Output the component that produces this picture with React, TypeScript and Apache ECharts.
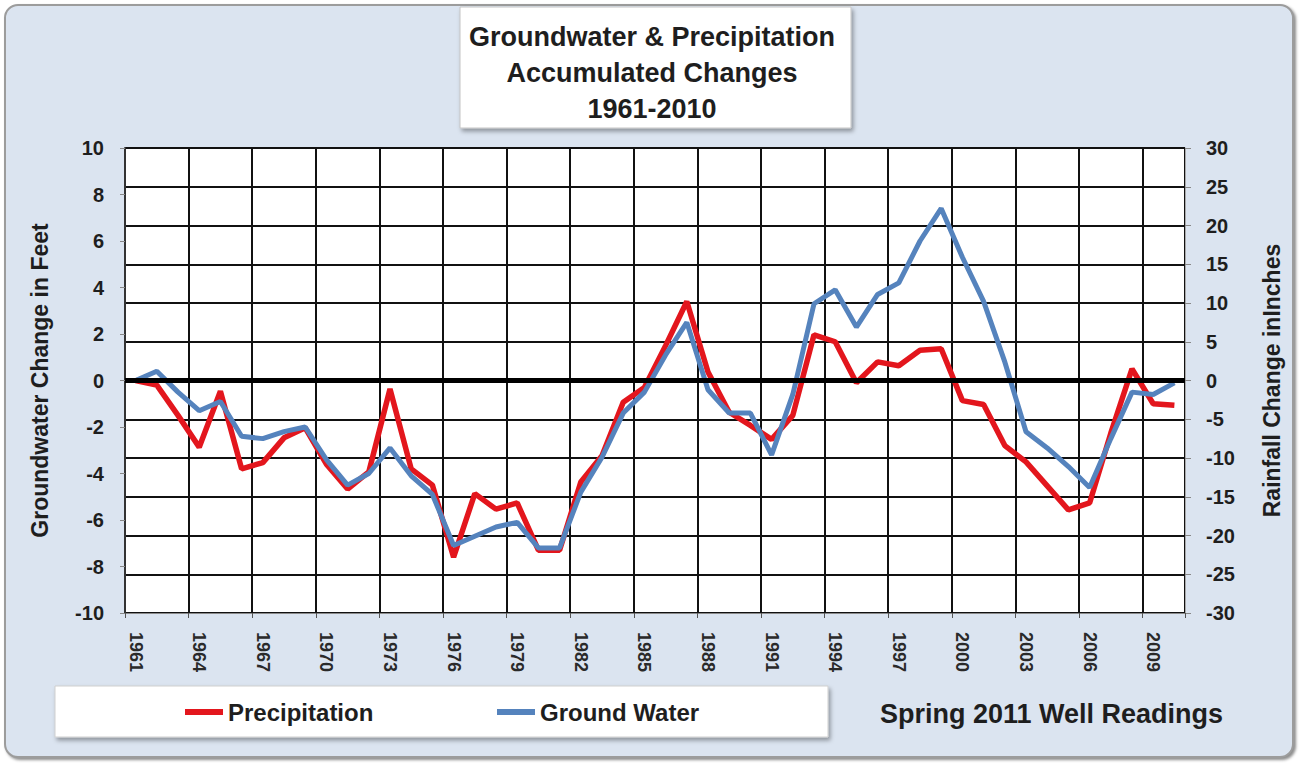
import React, { useEffect, useRef } from "react";
import * as echarts from "echarts";

const years = [
  "1961", "1962", "1963", "1964", "1965", "1966", "1967", "1968", "1969", "1970",
  "1971", "1972", "1973", "1974", "1975", "1976", "1977", "1978", "1979", "1980",
  "1981", "1982", "1983", "1984", "1985", "1986", "1987", "1988", "1989", "1990",
  "1991", "1992", "1993", "1994", "1995", "1996", "1997", "1998", "1999", "2000",
  "2001", "2002", "2003", "2004", "2005", "2006", "2007", "2008", "2009", "2010",
];

// Accumulated precipitation change, inches (right axis)
const precipitation = [
  0, -0.6, -4.5, -8.6, -1.4, -11.4, -10.6, -7.4, -6.1, -10.8,
  -14.0, -11.8, -1.1, -11.4, -13.5, -22.8, -14.6, -16.6, -15.8, -21.9,
  -21.9, -13.1, -9.7, -2.8, -0.9, 4.5, 10.2, 1.1, -4.1, -5.8,
  -7.6, -4.5, 5.9, 5.0, -0.3, 2.4, 1.9, 3.9, 4.1, -2.6,
  -3.1, -8.4, -10.5, -13.6, -16.7, -15.8, -6.8, 1.5, -3.0, -3.2,
];

// Accumulated groundwater change, feet (left axis)
const groundWater = [
  0, 0.4, -0.5, -1.3, -0.9, -2.4, -2.5, -2.2, -2.0, -3.4,
  -4.5, -4.0, -2.9, -4.1, -4.9, -7.1, -6.7, -6.3, -6.1, -7.2,
  -7.2, -4.8, -3.3, -1.4, -0.5, 1.1, 2.5, -0.4, -1.4, -1.4,
  -3.2, -0.6, 3.3, 3.9, 2.3, 3.7, 4.2, 6.0, 7.4, 5.3,
  3.4, 0.8, -2.2, -2.9, -3.7, -4.6, -2.5, -0.5, -0.6, -0.1,
];

const titleLines = ["Groundwater & Precipitation", "Accumulated Changes", "1961-2010"];
const leftAxisName = "Groundwater Change in Feet";
const rightAxisName = "Rainfall Change inInches";
const footnote = "Spring 2011 Well Readings";

const FONT = "'Liberation Sans', Arial, sans-serif";
const TEXT = "#1e1e1e";
const RED = "#e3161d";
const BLUE = "#5583bd";

export default function App() {
  const ref = useRef<HTMLDivElement>(null);

  useEffect(() => {
    if (!ref.current) return;
    const chart = echarts.init(ref.current, undefined, { renderer: "svg" });
    const legendText = {
      fontSize: 24,
      fontWeight: "bold",
      fontFamily: FONT,
      color: TEXT,
    };
    chart.setOption({
      animation: false,
      backgroundColor: "transparent",
      textStyle: { fontFamily: FONT },
      graphic: [
        {
          type: "rect",
          z: 1,
          silent: true,
          shape: { x: 460, y: 7, width: 391, height: 121 },
          style: {
            fill: "#ffffff",
            stroke: "#c4c4c4",
            lineWidth: 1,
            shadowBlur: 4,
            shadowOffsetX: 2,
            shadowOffsetY: 3,
            shadowColor: "rgba(0,0,0,0.35)",
          },
        },
        {
          type: "text",
          z: 2,
          silent: true,
          x: 652,
          y: 73,
          style: {
            text: titleLines.join("\n"),
            font: `bold 27px ${FONT}`,
            lineHeight: 36,
            fill: TEXT,
            align: "center",
            verticalAlign: "middle",
          },
        },
        {
          type: "rect",
          z: 1,
          silent: true,
          shape: { x: 55, y: 686, width: 773, height: 51 },
          style: {
            fill: "#ffffff",
            stroke: "#cfcfcf",
            lineWidth: 1,
            shadowBlur: 4,
            shadowOffsetX: 2,
            shadowOffsetY: 3,
            shadowColor: "rgba(0,0,0,0.35)",
          },
        },
        {
          type: "text",
          z: 2,
          silent: true,
          x: 880,
          y: 714,
          style: {
            text: footnote,
            font: `bold 27px ${FONT}`,
            fill: TEXT,
            align: "left",
            verticalAlign: "middle",
          },
        },
      ],
      legend: [
        {
          data: ["Precipitation"],
          left: 185,
          top: 700,
          padding: 0,
          icon: "rect",
          itemWidth: 38,
          itemHeight: 6,
          textStyle: legendText,
          z: 5,
        },
        {
          data: ["Ground Water"],
          left: 497,
          top: 700,
          padding: 0,
          icon: "rect",
          itemWidth: 38,
          itemHeight: 6,
          textStyle: legendText,
          z: 5,
        },
      ],
      grid: {
        left: 125,
        right: 115,
        top: 148,
        bottom: 151,
        show: true,
        backgroundColor: "#ffffff",
        borderColor: "#9a9a9a",
        borderWidth: 1,
      },
      xAxis: {
        type: "category",
        data: years,
        boundaryGap: true,
        axisLine: { show: true, onZero: false, lineStyle: { color: "#8a8a8a", width: 1 } },
        axisTick: { show: true, interval: 2, length: 5, lineStyle: { color: "#555" } },
        axisLabel: {
          interval: 2,
          rotate: -90,
          margin: 19,
          fontSize: 18,
          fontWeight: "bold",
          fontFamily: FONT,
          color: "#2a2a2a",
        },
        splitLine: { show: true, interval: 2, lineStyle: { color: "#111", width: 2 } },
      },
      yAxis: [
        {
          type: "value",
          position: "left",
          min: -10,
          max: 10,
          interval: 2,
          axisLine: { show: true, lineStyle: { color: "#333", width: 2 } },
          axisTick: { show: true, length: 5, lineStyle: { color: "#888" } },
          axisLabel: {
            margin: 21,
            fontSize: 20,
            fontWeight: "bold",
            fontFamily: FONT,
            color: TEXT,
          },
          splitLine: { show: false },
          name: leftAxisName,
          nameLocation: "middle",
          nameGap: 74,
          nameRotate: 90,
          nameTextStyle: { fontSize: 23, fontWeight: "bold", fontFamily: FONT, color: TEXT },
        },
        {
          type: "value",
          position: "right",
          min: -30,
          max: 30,
          interval: 5,
          axisLine: { show: true, lineStyle: { color: "#aaa", width: 1 } },
          axisTick: { show: true, length: 6, lineStyle: { color: "#888" } },
          axisLabel: {
            margin: 21,
            fontSize: 20,
            fontWeight: "bold",
            fontFamily: FONT,
            color: TEXT,
          },
          splitLine: { show: true, lineStyle: { color: "#111", width: 2 } },
          name: rightAxisName,
          nameLocation: "middle",
          nameGap: 75,
          nameRotate: 90,
          nameTextStyle: { fontSize: 23, fontWeight: "bold", fontFamily: FONT, color: TEXT },
        },
      ],
      series: [
        {
          name: "zero",
          type: "line",
          yAxisIndex: 0,
          data: [],
          z: 2,
          silent: true,
          markLine: {
            silent: true,
            symbol: "none",
            label: { show: false },
            lineStyle: { color: "#000", width: 5, type: "solid" },
            data: [{ yAxis: 0 }],
          },
        },
        {
          name: "Precipitation",
          type: "line",
          yAxisIndex: 1,
          data: precipitation,
          symbol: "none",
          color: RED,
          lineStyle: { color: RED, width: 5.5 },
          z: 3,
        },
        {
          name: "Ground Water",
          type: "line",
          yAxisIndex: 0,
          data: groundWater,
          symbol: "none",
          color: BLUE,
          lineStyle: { color: BLUE, width: 5 },
          z: 4,
        },
      ],
    });
    return () => chart.dispose();
  }, []);

  return (
    <div style={{ position: "fixed", left: 0, top: 0, width: 1300, height: 764, background: "#ffffff" }}>
      <div
        style={{
          position: "absolute",
          left: 4,
          top: 4,
          width: 1290,
          height: 754,
          boxSizing: "border-box",
          border: "2px solid #9c9c9c",
          borderRadius: 14,
          background: "#dbe4f0",
          boxShadow: "2px 2px 3px rgba(0,0,0,0.45)",
        }}
      />
      <div ref={ref} style={{ position: "absolute", left: 0, top: 0, width: 1300, height: 764 }} />
    </div>
  );
}
